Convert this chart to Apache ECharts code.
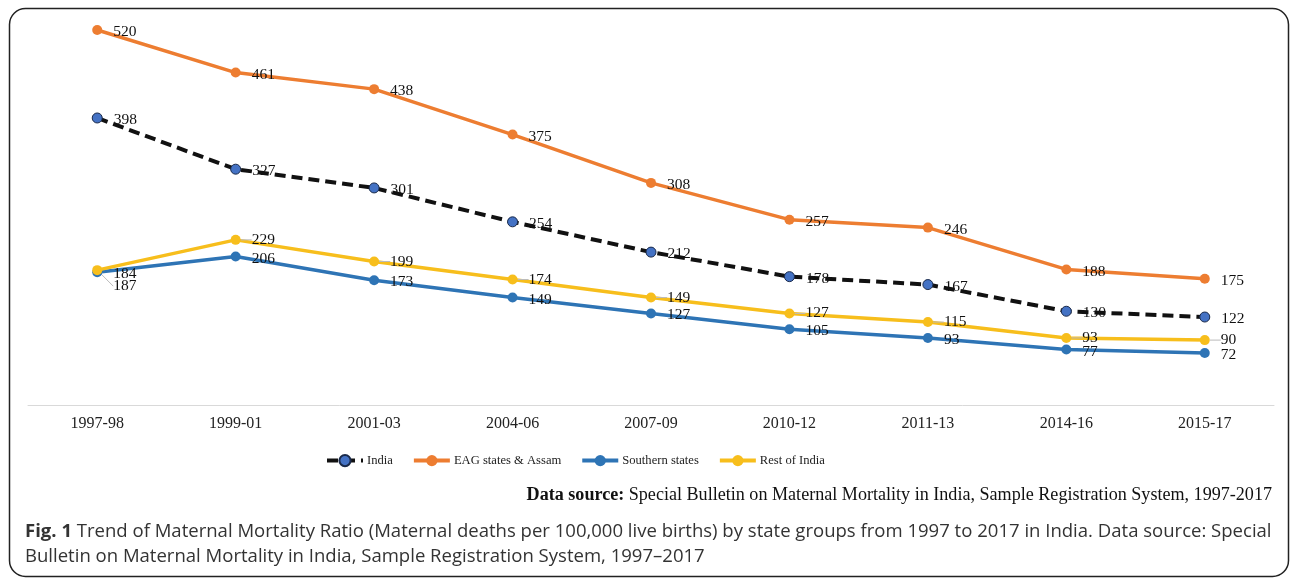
<!DOCTYPE html>
<html>
<head>
<meta charset="utf-8">
<script src="https://cdn.jsdelivr.net/npm/echarts@6/dist/echarts.min.js"></script>
<style>
  html, body { margin: 0; padding: 0; background: #fff; }
  #chart { width: 1292px; height: 578px; }
</style>
</head>
<body>
<div id="chart"></div>
<script>
// Survey periods (Sample Registration System bulletins)
const periods = ['1997-98', '1999-01', '2001-03', '2004-06', '2007-09', '2010-12', '2011-13', '2014-16', '2015-17'];

// Maternal Mortality Ratio per 100,000 live births
const india = [398, 327, 301, 254, 212, 178, 167, 130, 122];
const eagAssam = [520, 461, 438, 375, 308, 257, 246, 188, 175];
const southern = [184, 206, 173, 149, 127, 105, 93, 77, 72];
const restOfIndia = [187, 229, 199, 174, 149, 127, 115, 93, 90];

const serif = '"Liberation Serif", "Times New Roman", serif';
const sans = '"Open Sans", "Noto Sans", sans-serif';

const labelStyle = {
  show: true,
  position: 'right',
  distance: 11,
  color: '#111',
  fontFamily: serif,
  fontSize: 15.5,
  offset: [0, 2]
};

function series(name, data, color, opts) {
  return Object.assign({
    name: name,
    type: 'line',
    data: data,
    symbol: 'circle',
    symbolSize: 10,
    lineStyle: { color: color, width: 3.5 },
    itemStyle: { color: color },
    label: labelStyle,
    z: 2
  }, opts || {});
}

const chart = echarts.init(document.getElementById('chart'));
chart.setOption({
  animation: false,
  backgroundColor: '#fff',
  grid: { left: 28, right: 18, top: 30, bottom: 173 },
  xAxis: {
    type: 'category',
    data: periods,
    boundaryGap: true,
    axisLine: { lineStyle: { color: '#d9d9d9', width: 1 } },
    axisTick: { show: false },
    axisLabel: { color: '#222', fontFamily: serif, fontSize: 16, margin: 11 }
  },
  yAxis: {
    type: 'value',
    min: 0,
    max: 520,
    show: false,
    splitLine: { show: false }
  },
  legend: {
    left: 320,
    top: 449,
    itemWidth: 36,
    itemHeight: 14,
    itemGap: 19,
    lineStyle: { width: 4 },
    textStyle: { fontFamily: serif, fontSize: 12.6, color: '#222', padding: [0, 0, 0, -1] },
    data: ['India', 'EAG states & Assam', 'Southern states', 'Rest of India']
  },
  series: [
    series('EAG states & Assam', eagAssam, '#ED7D31'),
    series('Southern states', southern, '#2E74B5'),
    series('Rest of India', restOfIndia, '#F7BE1C', {
      labelLayout: function (p) {
        if (p.dataIndex === 0) return { dx: 0, dy: 16 };
      },
      labelLine: { show: true, lineStyle: { color: '#bbb', width: 1 } }
    }),
    series('India', india, '#4472C4', {
      lineStyle: { color: '#111', width: 4, type: [11, 6] },
      itemStyle: { color: '#4472C4', borderColor: '#1a2a4a', borderWidth: 1 },
      z: 3
    })
  ],
  graphic: [
    {
      type: 'rect',
      shape: { x: 9.5, y: 8.5, width: 1279, height: 568, r: 16 },
      style: { fill: 'none', stroke: '#222', lineWidth: 1.5 },
      silent: true
    },
    {
      type: 'text',
      right: 20,
      top: 486,
      style: {
        text: '{b|Data source:} Special Bulletin on Maternal Mortality in India, Sample Registration System, 1997-2017',
        fontFamily: serif,
        fontSize: 18.1,
        fill: '#111',
        rich: { b: { fontFamily: serif, fontSize: 18.1, fontWeight: 'bold', fill: '#111' } }
      }
    },
    {
      type: 'text',
      left: 25,
      top: 519,
      style: {
        text: '{b|Fig. 1} Trend of Maternal Mortality Ratio (Maternal deaths per 100,000 live births) by state groups from 1997 to 2017 in India. Data source: Special\nBulletin on Maternal Mortality in India, Sample Registration System, 1997\u20132017',
        fontFamily: sans,
        fontSize: 18.55,
        lineHeight: 25,
        fill: '#333',
        rich: { b: { fontFamily: sans, fontSize: 18.55, fontWeight: 'bold', fill: '#333', lineHeight: 25 } }
      }
    }
  ]
});
</script>
</body>
</html>
